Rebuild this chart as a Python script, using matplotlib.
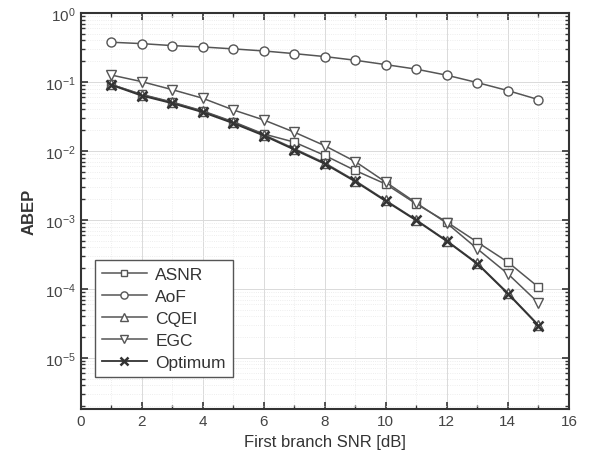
import numpy as np
import matplotlib.pyplot as plt
from matplotlib.ticker import MultipleLocator, LogLocator, NullFormatter

plt.rcParams['font.family'] = ['Liberation Sans', 'DejaVu Sans']

snr = [1, 2, 3, 4, 5, 6, 7, 8, 9, 10, 11, 12, 13, 14, 15]
asnr = [0.092, 0.066, 0.051, 0.038, 0.0265, 0.0176, 0.0134, 0.0086, 0.0052,
        0.0033, 0.0017, 0.00093, 0.000475, 0.000244, 0.000106]
aof = [0.376, 0.359, 0.336, 0.321, 0.301, 0.281, 0.257, 0.233, 0.206,
       0.178, 0.153, 0.125, 0.0977, 0.0748, 0.0554]
cqei = [0.092, 0.065, 0.0505, 0.0374, 0.026, 0.0172, 0.0108, 0.0067, 0.0037,
        0.00192, 0.001, 0.0005, 0.000235, 8.7e-5, 3.0e-5]
egc = [0.126, 0.101, 0.0773, 0.058, 0.0393, 0.0281, 0.0187, 0.0119, 0.0070,
       0.00352, 0.00176, 0.000896, 0.00038, 0.000165, 6.27e-5]
optimum = [0.0905, 0.0633, 0.049, 0.0364, 0.0252, 0.0167, 0.01045, 0.0065, 0.0036,
           0.00187, 0.00098, 0.00049, 0.00023, 8.5e-5, 2.94e-5]

fig = plt.figure(figsize=(5.92, 4.64), dpi=100)
ax = fig.add_axes([0.136, 0.116, 0.825, 0.854])

lc = '#555555'
mk = dict(color=lc, lw=1.1, mfc='white', mec=lc, mew=1.0)
ax.semilogy(snr, asnr, marker='s', ms=6, label='ASNR', **mk)
ax.semilogy(snr, aof, marker='o', ms=6.5, label='AoF', **mk)
ax.semilogy(snr, cqei, marker='^', ms=7, label='CQEI', **mk)
ax.semilogy(snr, egc, marker='v', ms=7, label='EGC', **mk)
ax.semilogy(snr, optimum, marker='x', ms=7, color='#333333', lw=1.3, mew=1.8,
            label='Optimum')

ax.set_xlim(0, 16)
ax.set_ylim(1.8e-6, 1)
ax.xaxis.set_major_locator(MultipleLocator(2))
ax.xaxis.set_minor_locator(MultipleLocator(1))
ax.yaxis.set_major_locator(LogLocator(base=10, numticks=10))
ax.yaxis.set_minor_locator(LogLocator(base=10, subs=np.arange(2, 10), numticks=20))
ax.yaxis.set_minor_formatter(NullFormatter())

ax.grid(True, which='major', color='#dadada', lw=0.7, ls='-')
ax.grid(True, which='minor', color='#e8e8e8', lw=0.6, ls=':')
ax.tick_params(which='both', direction='in', top=True, right=True, colors='#333333',
               labelsize=11, labelcolor='#444444')
ax.tick_params(which='major', length=5, width=1.2)
ax.tick_params(which='minor', length=3, width=1.0)
for s in ax.spines.values():
    s.set_linewidth(1.5)
    s.set_color('#333333')

ax.set_xlabel('First branch SNR [dB]', fontsize=12, color='#333333')
ax.set_ylabel('ABEP', fontsize=12, fontweight='bold', color='#333333', labelpad=6)

leg = ax.legend(loc='lower left', bbox_to_anchor=(0.029, 0.081), borderaxespad=0,
                fontsize=12.5, fancybox=False, edgecolor='#555555', framealpha=1,
                handlelength=2.6, labelspacing=0.4, borderpad=0.4,
                markerscale=0.8, handletextpad=0.5)
leg.get_frame().set_linewidth(1.0)
for t in leg.get_texts():
    t.set_color('#333333')

fig.savefig('out.png', dpi=100)
